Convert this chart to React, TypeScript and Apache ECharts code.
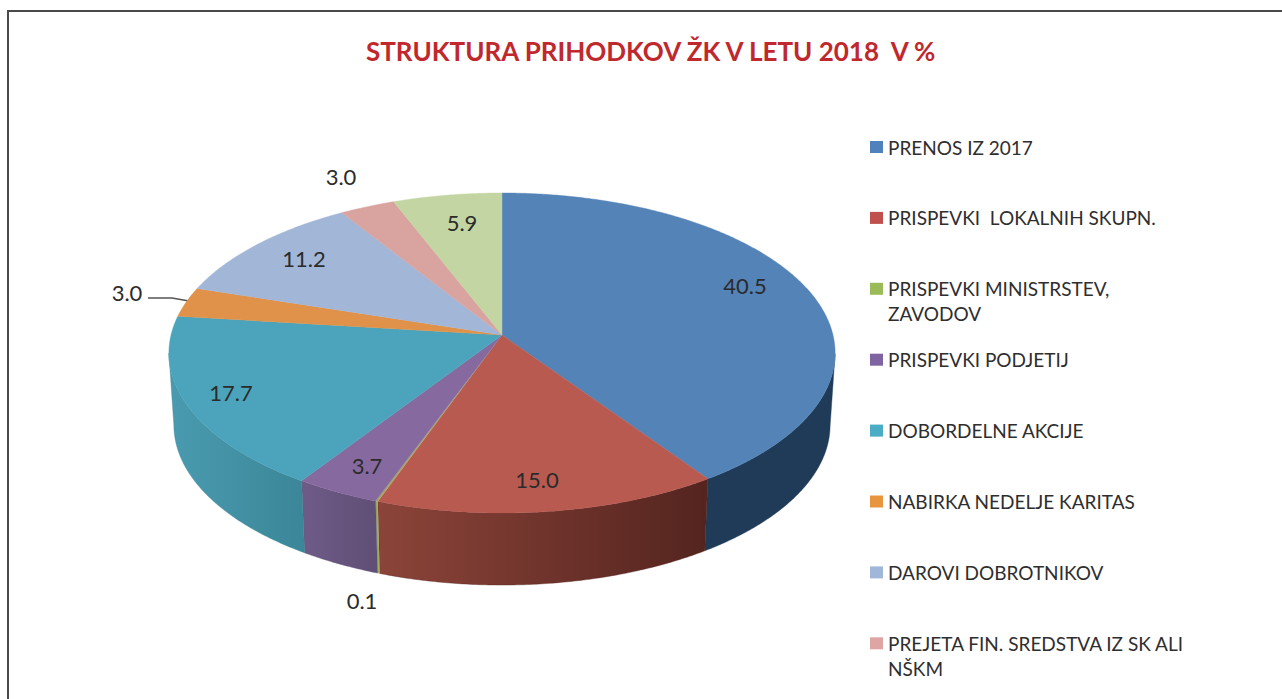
import React, { useEffect, useRef } from "react";
import * as echarts from "echarts";

const chartTitle = "STRUKTURA PRIHODKOV ŽK V LETU 2018  V %";
const categories = [
  "PRENOS IZ 2017",
  "PRISPEVKI  LOKALNIH SKUPN.",
  "PRISPEVKI MINISTRSTEV,",
  "PRISPEVKI PODJETIJ",
  "DOBORDELNE AKCIJE",
  "NABIRKA NEDELJE KARITAS",
  "DAROVI DOBROTNIKOV",
  "PREJETA FIN. SREDSTVA IZ SK ALI",
  "",
];
const continuationLines = ["ZAVODOV", "NŠKM"];
const sliceValues = [40.5, 15.0, 0.1, 3.7, 17.7, 3.0, 11.2, 3.0, 5.9];
const valueLabels = ["40.5", "15.0", "0.1", "3.7", "17.7", "3.0", "11.2", "3.0", "5.9"];

const legendColors = ["#4f81bd", "#c0504d", "#9bbb59", "#8064a2", "#4bacc6", "#e8953f", "#a0b7d9", "#dfa5a4", "#c3d5a2"];
const topColors = ["#5484b7", "#b85a50", "#a3a860", "#866a9f", "#4ba4bb", "#e0924a", "#a2b6d7", "#d9a3a0", "#c3d5a2"];
const wallColors: [string, string][] = [
  ["#1f3b58", "#1f3b58"],
  ["#8c4439", "#54241f"],
  ["#9bb05a", "#9bb05a"],
  ["#6f5b88", "#5f4e75"],
  ["#4a9bb0", "#3b8698"],
  ["#c07a3a", "#c07a3a"],
  ["#8496b2", "#8496b2"],
  ["#b28684", "#b28684"],
  ["#a0af85", "#a0af85"],
];

const labelAnchors: [number, number][] = [
  [745, 285], [537, 479], [362, 600], [367, 465], [231, 392], [127, 292], [304, 258], [341, 176], [462, 222],
];

// projection of the pie's unit disc on the page
const APEX_X = 502;
const APEX_Y = 335;
const SCALE_X = 331;
const SCALE_Y = 158;
const TILT = 0.1125;
const DEPTH = 72;
const BOTTOM_SHRINK = 0.985;
const SILHOUETTE_Y = 353;
const THIN_SLICE = 1;

const total = sliceValues.reduce((a, b) => a + b, 0);
const cumulative = sliceValues.reduce<number[]>((acc, v) => [...acc, acc[acc.length - 1] + v], [0]);

function rim(theta: number): [number, number] {
  const u = Math.sin(theta);
  const v = -Math.cos(theta);
  const w = 1 - TILT * v;
  return [APEX_X + (SCALE_X * u) / w, APEX_Y + (SCALE_Y * v) / w];
}
function lower(p: [number, number]): [number, number] {
  return [APEX_X + (p[0] - APEX_X) * BOTTOM_SHRINK, p[1] + DEPTH];
}
function arcPoints(a0: number, a1: number) {
  const n = Math.max(2, Math.ceil(((a1 - a0) * 180) / Math.PI / 0.5));
  const pts: [number, number][] = [];
  for (let i = 0; i <= n; i++) pts.push(rim(a0 + ((a1 - a0) * i) / n));
  return pts;
}

const makeRenderItem = (index: number) => (_params: any, api: any) => {
  const value = api.value(0);
  const a0 = (cumulative[index] / total) * Math.PI * 2;
  const a1 = a0 + (value / total) * Math.PI * 2;
  const arc = arcPoints(a0, a1);
  const children: any[] = [];
  const seam = value < THIN_SLICE ? 0 : 0.4;

  const front = arc.filter((p) => p[1] >= SILHOUETTE_Y);
  if (front.length > 1) {
    const bottom = front.map(lower).reverse();
    children.push({
      type: "polygon",
      shape: { points: [...front, ...bottom] },
      style: {
        fill: new echarts.graphic.LinearGradient(0, 0, 1, 0, [
          { offset: 0, color: wallColors[index][0] },
          { offset: 1, color: wallColors[index][1] },
        ]),
        stroke: wallColors[index][1],
        lineWidth: seam,
      },
    });
  }
  children.push({
    type: "polygon",
    shape: { points: [[APEX_X, APEX_Y], ...arc] },
    style: { fill: topColors[index], stroke: topColors[index], lineWidth: seam },
  });
  return { type: "group", children };
};

const labelSeries = {
  type: "custom",
  coordinateSystem: "none",
  silent: true,
  z: 5,
  data: valueLabels.map((_, i) => [i]),
  renderItem: (_p: any, api: any) => {
    const i = api.value(0);
    return {
      type: "text",
      x: labelAnchors[i][0],
      y: labelAnchors[i][1],
      style: {
        text: valueLabels[i],
        fill: "#2b2b2b",
        font: "22px Lato",
        align: "center",
        verticalAlign: "middle",
      },
    };
  },
};

const LEGEND_PITCH = 70.9;
const LEGEND_TOP = 137;
const LEGEND_LINE = 20;

export default function App() {
  const ref = useRef<HTMLDivElement>(null);
  useEffect(() => {
    const chart = echarts.init(ref.current!, null, { renderer: "svg" });
    chart.setOption({
      animation: false,
      backgroundColor: "#ffffff",
      title: {
        text: chartTitle,
        left: 366,
        top: 33,
        padding: [5, 0, 5, 0],
        textStyle: { fontFamily: "Lato", fontWeight: "bold", fontSize: 26, color: "#c0282d" },
      },
      legend: {
        orient: "vertical",
        left: 870,
        top: LEGEND_TOP,
        padding: 0,
        itemWidth: 13,
        itemHeight: 12,
        itemGap: LEGEND_PITCH - LEGEND_LINE,
        icon: "rect",
        data: categories.slice(0, 8),
        selectedMode: false,
        textStyle: { fontFamily: "Lato", fontSize: 19, color: "#2e2e2e", lineHeight: LEGEND_LINE },
      },
      graphic: [
        {
          type: "polyline",
          shape: { points: [[8, 699], [8, 11], [1282, 11]] },
          style: { fill: "none", stroke: "#4a4a4a", lineWidth: 2 },
        },
        {
          type: "polyline",
          shape: { points: [[148, 298], [172, 298], [189, 301]] },
          style: { fill: "none", stroke: "#555555", lineWidth: 1.5 },
        },
        ...continuationLines.map((text, i) => ({
          type: "text",
          x: 888,
          y: LEGEND_TOP + LEGEND_LINE / 2 + (i === 0 ? 2 : 7) * LEGEND_PITCH + 25,
          style: { text, fill: "#2e2e2e", font: "19px Lato", verticalAlign: "middle" },
        })),
      ],
      series: [
        ...sliceValues.map((value, i) => ({
          type: "custom",
          name: categories[i],
          coordinateSystem: "none",
          silent: true,
          itemStyle: { color: legendColors[i] },
          data: [[value]],
          renderItem: makeRenderItem(i),
        })),
        labelSeries,
      ],
    });
    return () => chart.dispose();
  }, []);
  return <div ref={ref} style={{ position: "absolute", left: 0, top: 0, width: 1282, height: 699 }} />;
}
